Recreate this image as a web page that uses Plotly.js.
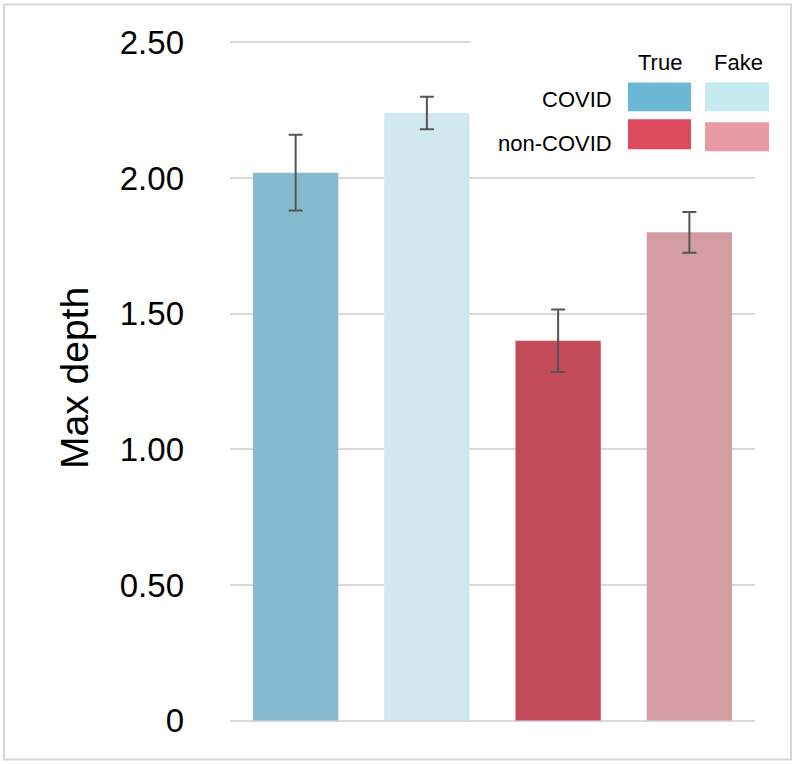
<!DOCTYPE html>
<html>
<head>
<meta charset="utf-8">
<script src="https://cdn.plot.ly/plotly-3.0.1.min.js"></script>
<style>
html,body{margin:0;padding:0;background:#fff;}
#chart{width:796px;height:764px;}
</style>
</head>
<body>
<div id="chart"></div>
<script>
// Data
const categories = ["COVID True", "COVID Fake", "non-COVID True", "non-COVID Fake"];
const maxDepth = [2.02, 2.24, 1.40, 1.80];
const errors = [0.14, 0.06, 0.115, 0.075];
const tickValues = [0, 0.5, 1.0, 1.5, 2.0, 2.5];
const tickLabels = ["0", "0.50", "1.00", "1.50", "2.00", "2.50"];
const legendCols = ["True", "Fake"];
const legendRows = ["COVID", "non-COVID"];

// Styles
const barColors = ["#87b9cf", "#d1e8f0", "#c44b5a", "#d49ca3"];
const swatchColors = [["#6ab8d3", "#c5eaf0"], ["#de4a5e", "#e89aa5"]];

const W = 796, H = 764;
const yMin = -0.02, yMax = 2.52;
const pxPerUnit = (721 - 42) / 2.5;
const L = 230, R = 755;
const T = 42 - (yMax - 2.5) * pxPerUnit;
const B = 721 + (0 - yMin) * pxPerUnit;
const px = x => (x - L) / (R - L);
const py = y => (B - y) / (B - T);

const trace = {
  type: "bar",
  x: categories,
  y: maxDepth,
  marker: {color: barColors},
  error_y: {type: "data", array: errors, visible: true, color: "#555555", thickness: 2, width: 7},
  hoverinfo: "skip"
};

const shapes = [];
const annotations = [];

// outer border
shapes.push({type: "rect", xref: "paper", yref: "paper", x0: px(4), x1: px(791), y0: py(4), y1: py(760),
  line: {color: "#d6d6d6", width: 2}, fillcolor: "rgba(0,0,0,0)", layer: "below"});
// white box behind legend covering the top gridline
shapes.push({type: "rect", xref: "paper", yref: "paper", x0: px(471), x1: px(785), y0: py(30), y1: py(56),
  line: {width: 0}, fillcolor: "#ffffff", layer: "above"});

// legend swatches
const swatchBoxes = [
  [[628, 691, 82, 111], [705, 769, 82, 111]],
  [[628, 691, 119, 149], [705, 769, 122, 151]]
];
for (let r = 0; r < 2; r++) {
  for (let c = 0; c < 2; c++) {
    const b = swatchBoxes[r][c];
    shapes.push({type: "rect", xref: "paper", yref: "paper", x0: px(b[0]), x1: px(b[1]), y0: py(b[3]), y1: py(b[2]),
      line: {width: 0}, fillcolor: swatchColors[r][c], layer: "above"});
  }
}
const colCenters = [660, 738];
legendCols.forEach((t, i) => annotations.push({xref: "paper", yref: "paper", x: px(colCenters[i]), y: py(62),
  text: t, showarrow: false, xanchor: "center", yanchor: "middle", font: {size: 22, color: "#000", family: "Liberation Sans, Arial, sans-serif"}}));
const rowCenters = [99, 143];
legendRows.forEach((t, i) => annotations.push({xref: "paper", yref: "paper", x: px(614), y: py(rowCenters[i]),
  text: t, showarrow: false, xanchor: "right", yanchor: "middle", font: {size: 22, color: "#000", family: "Liberation Sans, Arial, sans-serif"}}));

// y axis title
annotations.push({xref: "paper", yref: "paper", x: px(74), y: py(378), text: "Max depth", textangle: -90,
  showarrow: false, xanchor: "center", yanchor: "middle", font: {size: 39, color: "#000", family: "Liberation Sans, Arial, sans-serif"}});

const layout = {
  width: W, height: H,
  margin: {l: L, r: W - R, t: T, b: H - B, pad: 0},
  paper_bgcolor: "#ffffff", plot_bgcolor: "#ffffff",
  showlegend: false,
  bargap: 0.35,
  xaxis: {type: "category", range: [-0.5, 3.5], showticklabels: false, showgrid: false, zeroline: false, showline: false, ticks: ""},
  yaxis: {range: [yMin, yMax], tickvals: tickValues, ticktext: tickLabels, showgrid: true, gridcolor: "#d9d9d9", gridwidth: 2,
    zeroline: false, showline: false, ticks: "", ticklabelstandoff: 45,
    tickfont: {size: 33, color: "#000", family: "Liberation Sans, Arial, sans-serif"}},
  shapes: shapes,
  annotations: annotations
};

Plotly.newPlot("chart", [trace], layout, {displayModeBar: false, staticPlot: true});
</script>
</body>
</html>
